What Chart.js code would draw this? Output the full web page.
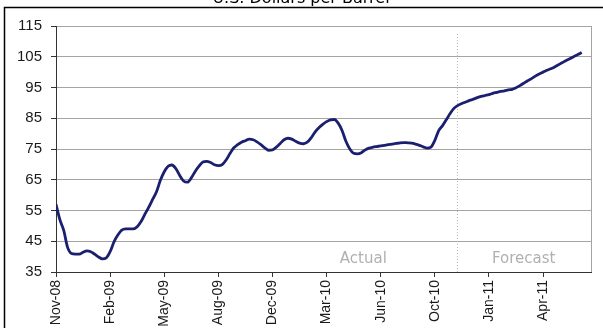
<!DOCTYPE html>
<html>
<head>
<meta charset="utf-8">
<script src="https://cdn.jsdelivr.net/npm/chart.js@4/dist/chart.umd.min.js"></script>
<style>
  html, body { margin: 0; background: #fff; }
  #wrap { width: 603px; height: 328px; position: relative; overflow: hidden; }
</style>
</head>
<body>
<div id="wrap"><canvas id="c" width="603" height="328"></canvas></div>
<script>
/* Crude oil price, weekly, actual then forecast. One value per week,
   week 0 = early Nov-08. Tick labels sit every 14 weeks. */
var TITLE = 'U.S. Dollars per Barrel';
var tickLabels = ['Nov-08', 'Feb-09', 'May-09', 'Aug-09', 'Dec-09', 'Mar-10', 'Jun-10', 'Oct-10', 'Jan-11', 'Apr-11'];
var weeksPerTick = 14;
var lastWeek = 138.4;       // right edge of the category axis
var forecastFrom = 103.7;   // week where the forecast begins (dotted line)
var yMin = 35, yMax = 115, yStep = 10;

var price = [
  57.0, 52.0, 48.5, 43.0, 41.0, 40.8, 40.8, 41.4, 41.9, 41.6,
  40.8, 39.9, 39.3, 39.6, 41.6, 44.8, 47.0, 48.6, 49.0, 49.0,
  49.0, 49.7, 51.4, 53.8, 56.1, 58.6, 61.1, 64.8, 67.6, 69.4,
  69.8, 68.6, 66.4, 64.6, 64.2, 65.6, 67.7, 69.4, 70.8, 71.0,
  70.6, 69.9, 69.6, 69.9, 71.4, 73.5, 75.4, 76.4, 77.2, 77.7,
  78.2, 78.0, 77.3, 76.4, 75.4, 74.6, 74.7, 75.6, 76.8, 78.0,
  78.5, 78.2, 77.5, 76.9, 76.7, 77.2, 78.6, 80.5, 81.9, 83.0,
  83.9, 84.5, 84.6, 83.4, 81.0, 77.5, 75.0, 73.6, 73.4, 73.8,
  74.7, 75.3, 75.6, 75.8, 76.0, 76.2, 76.4, 76.6, 76.8, 77.0,
  77.1, 77.0, 76.9, 76.6, 76.2, 75.7, 75.3, 75.6, 77.8, 81.0,
  82.6, 84.6, 86.6, 88.3, 89.2, 89.8, 90.3, 90.8, 91.2, 91.7,
  92.1, 92.4, 92.7, 93.1, 93.4, 93.7, 93.9, 94.2, 94.4, 94.9,
  95.6, 96.4, 97.2, 97.9, 98.7, 99.4, 100.0, 100.6, 101.1, 101.7,
  102.4, 103.1, 103.8, 104.4, 105.1, 105.7, 106.4
];

var regionLabels = [
  { text: 'Actual', week: 79.5 },
  { text: 'Forecast', week: 121.0 }
];
var regionLabelValue = 37.8;

var AXIS_FONT = "'Liberation Sans', Arial, sans-serif";
var NOTE_FONT = "'DejaVu Sans', Verdana, sans-serif";
var INK = { line: '#1b1f6f', grid: '#a4a4a4', axis: '#333', text: '#1a1a1a', note: '#b0b0b0' };

var points = price.map(function (v, i) { return { x: i, y: v }; });

// frame, cut-off title, plot border, forecast divider and region notes
var decor = {
  id: 'decor',
  beforeDraw: function (c) {
    var g = c.ctx;
    g.save();
    g.fillStyle = '#fff';
    g.fillRect(0, 0, c.width, c.height);
    g.strokeStyle = '#000';
    g.lineWidth = 1.5;
    g.beginPath();
    g.moveTo(4.5, c.height);
    g.lineTo(4.5, 7.5);
    g.lineTo(c.width, 7.5);
    g.stroke();
    g.fillStyle = '#000';
    g.font = '16px ' + NOTE_FONT;
    g.textAlign = 'center';
    g.textBaseline = 'alphabetic';
    g.fillText(TITLE, 301, 3);
    g.restore();
  },
  beforeDatasetsDraw: function (c) {
    var g = c.ctx, a = c.chartArea, xs = c.scales.x, ys = c.scales.y;
    g.save();
    g.strokeStyle = INK.grid;
    g.lineWidth = 1;
    g.beginPath();
    g.moveTo(Math.round(a.right) + 0.5, a.top);
    g.lineTo(Math.round(a.right) + 0.5, a.bottom);
    g.stroke();
    var fx = Math.round(xs.getPixelForValue(forecastFrom)) + 0.5;
    g.strokeStyle = '#b8b8b8';
    g.setLineDash([1, 2]);
    g.beginPath();
    g.moveTo(fx, a.top + 8);
    g.lineTo(fx, a.bottom);
    g.stroke();
    g.setLineDash([]);
    g.fillStyle = INK.note;
    g.font = '15px ' + NOTE_FONT;
    g.textAlign = 'center';
    g.textBaseline = 'alphabetic';
    regionLabels.forEach(function (r) {
      g.fillText(r.text, xs.getPixelForValue(r.week), ys.getPixelForValue(regionLabelValue));
    });
    g.restore();
  }
};

new Chart(document.getElementById('c'), {
  type: 'line',
  data: {
    datasets: [{
      data: points,
      borderColor: INK.line,
      borderWidth: 2.8,
      pointRadius: 0,
      fill: false,
      cubicInterpolationMode: 'monotone'
    }]
  },
  options: {
    responsive: false,
    animation: false,
    layout: { padding: { top: 26, right: 12, left: 0, bottom: 0 } },
    plugins: { legend: { display: false }, tooltip: { enabled: false }, title: { display: false } },
    scales: {
      x: {
        type: 'linear',
        min: 0,
        max: lastWeek,
        afterBuildTicks: function (s) {
          s.ticks = tickLabels.map(function (l, i) { return { value: i * weeksPerTick }; });
        },
        afterFit: function (s) { s.height = 56; },
        grid: { drawOnChartArea: false, tickLength: 5, tickColor: INK.axis, color: INK.axis },
        border: { color: INK.axis, width: 1 },
        ticks: {
          autoSkip: false,
          minRotation: 90,
          maxRotation: 90,
          padding: 3,
          color: INK.text,
          font: { family: AXIS_FONT, size: 14 },
          callback: function (v, i) { return tickLabels[i]; }
        }
      },
      y: {
        min: yMin,
        max: yMax,
        afterFit: function (s) { s.width = 56; },
        grid: { color: INK.grid, tickLength: 5, tickColor: INK.axis },
        border: { color: INK.axis, width: 1 },
        ticks: {
          stepSize: yStep,
          padding: 9,
          color: INK.text,
          font: { family: AXIS_FONT, size: 15 }
        }
      }
    }
  },
  plugins: [decor]
});
</script>
</body>
</html>
